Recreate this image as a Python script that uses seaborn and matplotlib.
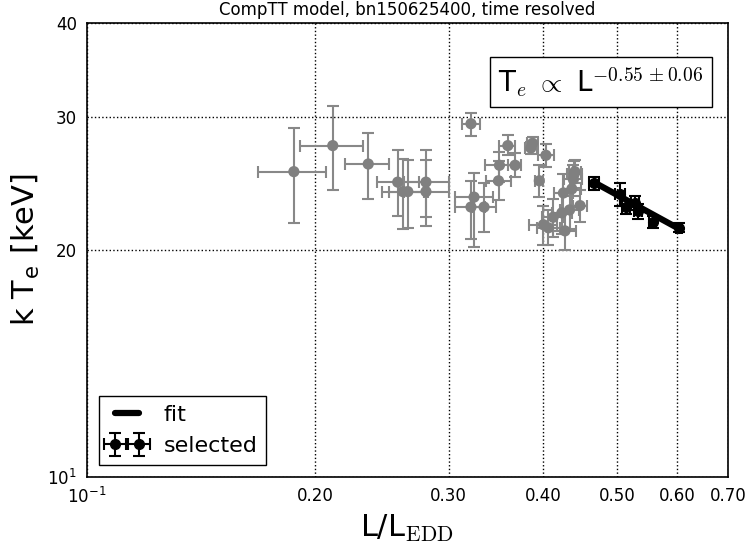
import numpy as np
import pandas as pd
import matplotlib
matplotlib.use('Agg')
import matplotlib.pyplot as plt
import seaborn as sns

# grey points (all time bins)
lum = [0.1875, 0.211, 0.235, 0.257, 0.261, 0.265, 0.280, 0.280,
       0.321, 0.359, 0.350, 0.367, 0.349, 0.385, 0.387, 0.403, 0.395,
       0.324, 0.321, 0.334,
       0.440, 0.439, 0.438, 0.436, 0.425, 0.447, 0.433, 0.423, 0.412,
       0.400, 0.406, 0.427]
lum_lo = [0.168, 0.191, 0.219, 0.241, 0.245, 0.250, 0.262, 0.262,
          0.312, 0.350, 0.335, 0.359, 0.336, 0.378, 0.381, 0.393, 0.390,
          0.306, 0.306, 0.323,
          0.432, 0.429, 0.426, 0.424, 0.413, 0.437, 0.420, 0.410, 0.398,
          0.383, 0.392, 0.412]
lum_hi = [0.207, 0.231, 0.250, 0.274, 0.278, 0.282, 0.300, 0.300,
          0.330, 0.367, 0.367, 0.374, 0.362, 0.392, 0.393, 0.413, 0.400,
          0.343, 0.335, 0.346,
          0.448, 0.449, 0.450, 0.448, 0.437, 0.457, 0.446, 0.436, 0.426,
          0.417, 0.420, 0.442]
kte = [25.4, 27.5, 26.0, 24.6, 23.9, 23.9, 24.6, 23.9,
       29.4, 27.5, 25.9, 25.9, 24.7, 27.3, 27.7, 26.7, 24.7,
       23.5, 22.8, 22.8,
       25.4, 25.2, 24.8, 24.1, 23.8, 22.9, 22.6, 22.4, 22.1,
       21.6, 21.4, 21.2]
kte_lo = [21.7, 24.0, 23.4, 22.2, 21.3, 21.4, 22.1, 21.5,
          28.3, 26.7, 24.6, 25.0, 23.3, 26.8, 27.2, 25.8, 23.5,
          20.2, 20.7, 21.1,
          24.5, 24.2, 23.6, 22.8, 22.4, 21.8, 21.3, 21.0, 20.8,
          20.3, 20.3, 20.0]
kte_hi = [29.0, 31.0, 28.6, 27.1, 26.4, 26.3, 27.1, 26.3,
          30.4, 28.4, 27.0, 26.9, 26.2, 27.8, 28.2, 27.6, 25.9,
          25.3, 24.7, 24.5,
          26.3, 26.2, 25.9, 25.3, 25.2, 24.0, 23.9, 23.8, 23.4,
          22.9, 22.6, 22.3]

# selected bins
sel_lum = [0.466, 0.505, 0.514, 0.528, 0.533, 0.557, 0.604]
sel_lum_err = [0.007, 0.008, 0.006, 0.007, 0.006, 0.006, 0.006]
sel_kte = [24.5, 23.7, 22.8, 23.1, 22.5, 21.8, 21.4]
sel_kte_err = [0.5, 0.8, 0.5, 0.5, 0.5, 0.4, 0.3]

# fit line end points
fit_lum = [0.466, 0.604]
fit_kte = [24.6, 21.33]

xticks = [0.1, 0.2, 0.3, 0.4, 0.5, 0.6, 0.7]
xlabels = [r'$\mathregular{10^{-1}}$', '0.20', '0.30', '0.40', '0.50', '0.60', '0.70']
yticks = [10, 20, 30, 40]
ylabels = [r'$\mathregular{10^{1}}$', '20', '30', '40']

sns.set_style('white')
plt.rcParams['font.family'] = ['DejaVu Sans']
plt.rcParams['mathtext.fontset'] = 'cm'
plt.rcParams['text.color'] = 'black'
plt.rcParams['axes.labelcolor'] = 'black'
plt.rcParams['xtick.color'] = 'black'
plt.rcParams['ytick.color'] = 'black'

df = pd.DataFrame({'lum': lum, 'kte': kte})

fig = plt.figure(figsize=(7.48, 5.44), dpi=100)
ax = fig.add_axes([0.116, 0.123, 0.857, 0.835])

xe = [np.array(lum) - np.array(lum_lo), np.array(lum_hi) - np.array(lum)]
ye = [np.array(kte) - np.array(kte_lo), np.array(kte_hi) - np.array(kte)]
ax.errorbar(lum, kte, xerr=xe, yerr=ye, fmt='none', ecolor='#888888',
            elinewidth=1.5, capsize=4, capthick=1.5, zorder=2)
sns.scatterplot(data=df, x='lum', y='kte', color='#808080', s=65,
                edgecolor='none', ax=ax, zorder=3)

ax.plot(fit_lum, fit_kte, color='black', lw=4.5, label='fit', zorder=4)
ax.errorbar(sel_lum, sel_kte, xerr=sel_lum_err, yerr=sel_kte_err, fmt='o',
            color='black', ms=7, elinewidth=1.5, capsize=4, capthick=1.5,
            label='selected', zorder=5)

ax.set_xscale('log')
ax.set_yscale('log')
ax.set_xlim(0.1, 0.7)
ax.set_ylim(10, 40)
ax.xaxis.set_minor_locator(matplotlib.ticker.NullLocator())
ax.yaxis.set_minor_locator(matplotlib.ticker.NullLocator())
ax.set_xticks(xticks)
ax.set_xticklabels(xlabels)
ax.set_yticks(yticks)
ax.set_yticklabels(ylabels)
ax.tick_params(direction='in', length=0, labelsize=12, pad=7,
               top=True, right=True, labelcolor='black')
ax.grid(True, color='black', linestyle=':', linewidth=1)
for s in ax.spines.values():
    s.set_color('black')
    s.set_linewidth(1.2)

ax.set_xlabel(r'L/L$_{\mathrm{EDD}}$', fontsize=22, color='black')
ax.set_ylabel(r'k T$_{\mathregular{e}}$ [keV]', fontsize=22, color='black')
ax.set_title('CompTT model, bn150625400, time resolved', fontsize=12, color='black')

ax.text(0.962, 0.870, r'T$_{e}$ $\propto$ L$^{-0.55\,\pm 0.06}$', fontsize=20,
        transform=ax.transAxes, ha='right', va='center', color='black',
        bbox=dict(facecolor='white', edgecolor='black', boxstyle='square,pad=0.3'))

leg = ax.legend(loc='lower left', numpoints=2, fontsize=16, fancybox=False,
                frameon=True, edgecolor='black', framealpha=1,
                bbox_to_anchor=(0.002, 0.002), handlelength=1.7)
leg.get_frame().set_linewidth(1)
for t in leg.get_texts():
    t.set_color('black')

fig.savefig('out.png', dpi=100)
